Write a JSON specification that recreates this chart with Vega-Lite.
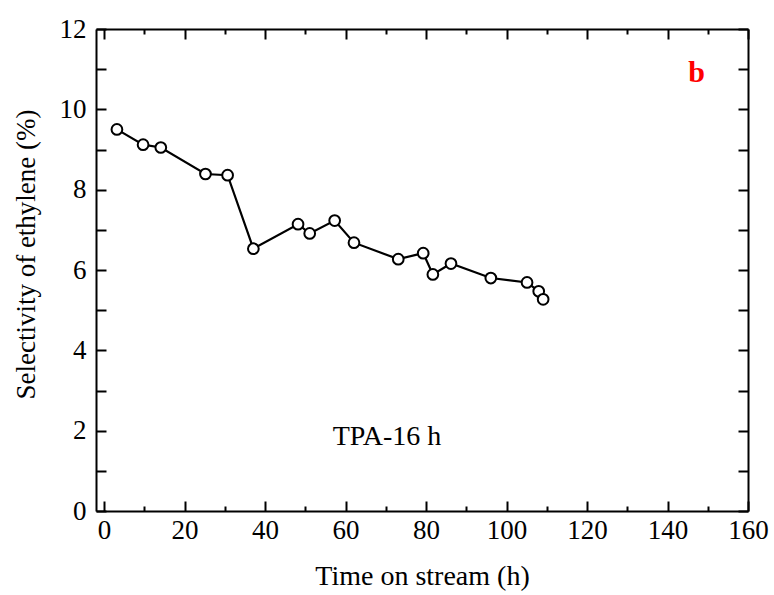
{
  "$schema": "https://vega.github.io/schema/vega-lite/v6.json",
  "width": 652,
  "height": 482,
  "autosize": "none",
  "padding": {"left": 96, "top": 29, "right": 26, "bottom": 84},
  "config": {
    "view": {"stroke": null},
    "font": "Liberation Serif",
    "axis": {
      "domainColor": "black", "domainWidth": 2, "tickColor": "black", "tickWidth": 2,
      "labelColor": "black", "labelFontSize": 27, "labelFont": "Liberation Serif",
      "titleFont": "Liberation Serif", "titleFontSize": 28, "titleFontWeight": "normal", "titleColor": "black",
      "grid": false
    }
  },
  "data": {"values": [
    {"t": 3.2, "s": 9.50},
    {"t": 9.7, "s": 9.12},
    {"t": 14.1, "s": 9.05},
    {"t": 25.2, "s": 8.39},
    {"t": 30.7, "s": 8.36},
    {"t": 37.1, "s": 6.53},
    {"t": 48.2, "s": 7.14},
    {"t": 51.1, "s": 6.91},
    {"t": 57.3, "s": 7.23},
    {"t": 62.1, "s": 6.68},
    {"t": 73.1, "s": 6.27},
    {"t": 79.3, "s": 6.42},
    {"t": 81.7, "s": 5.89},
    {"t": 86.2, "s": 6.16},
    {"t": 96.1, "s": 5.80},
    {"t": 105.1, "s": 5.69},
    {"t": 108.0, "s": 5.47},
    {"t": 109.1, "s": 5.27}
  ]},
  "resolve": {"axis": {"x": "independent", "y": "independent"}},
  "layer": [
    {
      "mark": {"type": "line", "color": "black", "strokeWidth": 2.2},
      "encoding": {
        "x": {"field": "t", "type": "quantitative",
          "scale": {"domain": [-2, 160], "nice": false, "zero": false},
          "axis": {"orient": "bottom", "title": "Time on stream (h)", "values": [0,10,20,30,40,50,60,70,80,90,100,110,120,130,140,150,160],
            "labelExpr": "datum.value % 20 === 0 ? datum.label : ''",
            "tickSize": {"condition": {"test": "datum.value % 20 === 0", "value": -10}, "value": -5},
            "labelPadding": 16, "titlePadding": 19, "labelFlush": false}},
        "y": {"field": "s", "type": "quantitative",
          "scale": {"domain": [0, 12], "nice": false},
          "axis": {"orient": "left", "title": "Selectivity of ethylene (%)", "values": [0,1,2,3,4,5,6,7,8,9,10,11,12],
            "labelExpr": "datum.value % 2 === 0 ? datum.label : ''",
            "tickSize": -10, "labelPadding": 20, "titlePadding": 19, "titleFontSize": 27, "titleY": 225, "labelFlush": false}}
      }
    },
    {
      "mark": {"type": "point", "shape": "circle", "filled": true, "fill": "white", "stroke": "black", "strokeWidth": 2, "size": 115, "opacity": 1},
      "encoding": {
        "x": {"field": "t", "type": "quantitative",
          "axis": {"orient": "top", "title": null, "labels": false, "values": [0,10,20,30,40,50,60,70,80,90,100,110,120,130,140,150,160],
            "tickSize": {"condition": {"test": "datum.value % 20 === 0", "value": -10}, "value": -5}}},
        "y": {"field": "s", "type": "quantitative",
          "axis": {"orient": "right", "title": null, "labels": false, "values": [0,1,2,3,4,5,6,7,8,9,10,11,12], "tickSize": -10}}
      }
    },
    {
      "data": {"values": [{"t": 147.2, "s": 10.9, "label": "b"}]},
      "mark": {"type": "text", "color": "red", "fontWeight": "bold", "fontSize": 30, "font": "Liberation Serif"},
      "encoding": {
        "x": {"field": "t", "type": "quantitative", "axis": null},
        "y": {"field": "s", "type": "quantitative", "axis": null},
        "text": {"field": "label"}
      }
    },
    {
      "data": {"values": [{"t": 70.3, "s": 1.83, "label": "TPA-16 h"}]},
      "mark": {"type": "text", "color": "black", "fontSize": 28, "font": "Liberation Serif"},
      "encoding": {
        "x": {"field": "t", "type": "quantitative", "axis": null},
        "y": {"field": "s", "type": "quantitative", "axis": null},
        "text": {"field": "label"}
      }
    }
  ]
}
